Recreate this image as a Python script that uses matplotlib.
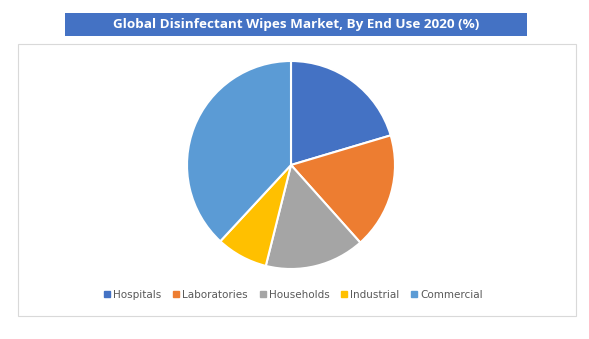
import matplotlib
matplotlib.use("Agg")
import matplotlib.pyplot as plt
from matplotlib.patches import Rectangle
from matplotlib.lines import Line2D

categories = ["Hospitals", "Laboratories", "Households", "Industrial", "Commercial"]
shares = [20.4, 18.0, 15.5, 8.0, 38.1]
colors = ["#4472C4", "#ED7D31", "#A5A5A5", "#FFC000", "#5B9BD5"]
title = "Global Disinfectant Wipes Market, By End Use 2020 (%)"

W, H = 589, 339
fig = plt.figure(figsize=(W / 100, H / 100), dpi=100)
fig.patch.set_facecolor("white")

# chart border
fig.patches.append(Rectangle((18 / W, 1 - 316 / H), (576 - 18) / W, (316 - 44) / H,
                             transform=fig.transFigure, fill=False,
                             edgecolor="#D9D9D9", linewidth=0.8))
# title banner
fig.patches.append(Rectangle((65 / W, 1 - 36 / H), (527 - 65) / W, 23 / H,
                             transform=fig.transFigure, facecolor="#4472C4",
                             edgecolor="none"))
fig.text(296 / W, 1 - 24.5 / H, title, color="white", fontsize=9.7, fontweight="bold",
         ha="center", va="center", family="Open Sans")

cx, cy, r = 291, 165, 104
ax = fig.add_axes([(cx - r) / W, (H - cy - r) / H, 2 * r / W, 2 * r / H])
ax.pie(shares, colors=colors, startangle=90, counterclock=False,
       wedgeprops=dict(edgecolor="white", linewidth=1.5))
ax.set_xlim(-1, 1)
ax.set_ylim(-1, 1)
ax.set_aspect("equal")
ax.axis("off")

handles = [Line2D([], [], marker="s", linestyle="none", markersize=4.5,
                  markerfacecolor=c, markeredgecolor=c) for c in colors]
fig.legend(handles, categories, loc="center", bbox_to_anchor=(293 / W, 1 - 295 / H),
           ncol=5, frameon=False, fontsize=7.5, labelcolor="#595959",
           handletextpad=0.2, columnspacing=1.0, handlelength=0.8)

fig.savefig("out.png", dpi=100)
